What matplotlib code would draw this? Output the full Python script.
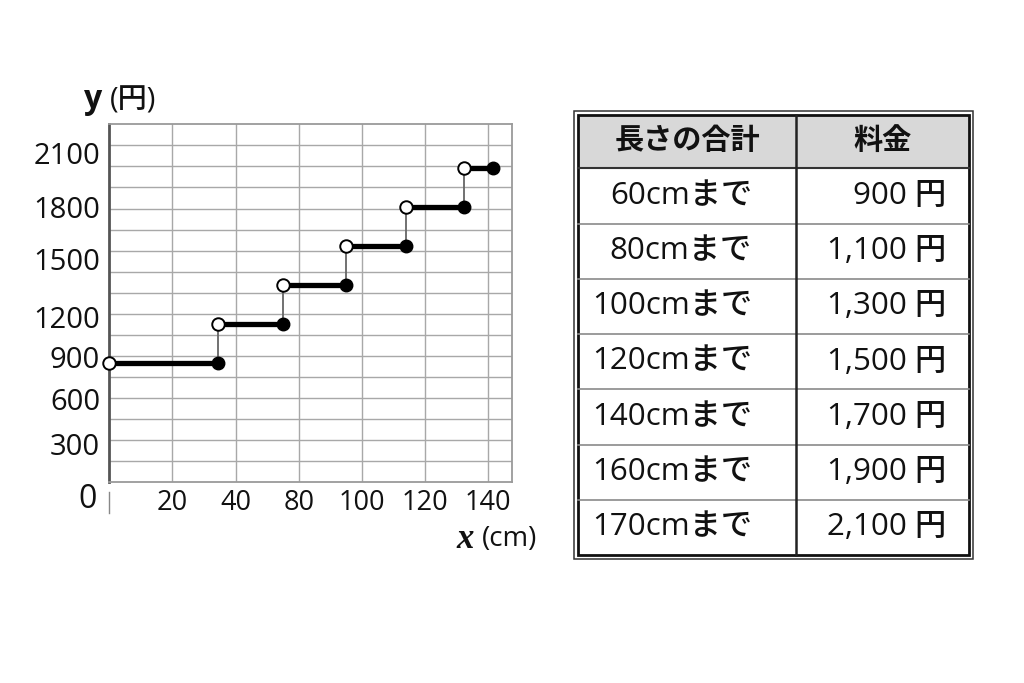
import numpy as np
import matplotlib
matplotlib.use("Agg")
import matplotlib.pyplot as plt
from matplotlib.patches import Rectangle

plt.rcParams['font.family'] = ['Open Sans', 'Noto Sans CJK JP', 'DejaVu Sans']
plt.rcParams['font.weight'] = 'medium'

# Table data
lengths = [60, 80, 100, 120, 140, 160, 170]  # cm
fees = [900, 1100, 1300, 1500, 1700, 1900, 2100]  # yen
header = ["長さの合計", "料金"]

# Step graph as drawn (breakpoints, in cm)
step_x = [0, 34.4, 54.9, 74.9, 93.9, 112.3, 121.6]
step_y = fees[:6]

# Tick labels as printed on the chart
x_ticks = [20, 40, 60, 80, 100, 120]
x_labels = ["20", "40", "80", "100", "120", "140"]
y_labels = ["2100", "1800", "1500", "1200", "900", "600", "300"]
y_label_px = [157, 210, 262, 320, 360, 403, 447.5]  # label centres, pixels

W, H = 1024, 683
fig = plt.figure(figsize=(W / 100, H / 100), dpi=100)


def box(l, t, r, b):
    return [l / W, 1 - b / H, (r - l) / W, (b - t) / H]


# ---- graph ----
ax = fig.add_axes(box(109.3, 124.3, 511.7, 482.3))
ymin, ymax = 289.7, 2125.6
ax.set_xlim(0, 127.4)
ax.set_ylim(ymin, ymax)
ax.set_xticks(x_ticks, x_labels, fontsize=19.5)
ax.tick_params(axis='x', length=0, pad=5, colors='#111')
ax.set_yticks([])
ax.set_yticks(np.linspace(ymin, ymax, 18)[1:-1], minor=True)
ax.tick_params(which='minor', length=0)
ax.grid(True, which='major', axis='x', color='#a8a8a8', lw=1)
ax.grid(True, which='minor', axis='y', color='#a8a8a8', lw=1)
for side in ['top', 'right', 'bottom']:
    ax.spines[side].set_color('#9a9a9a')
    ax.spines[side].set_linewidth(1.3)
ax.spines['left'].set_color('#555555')
ax.spines['left'].set_linewidth(2)

for i, fee in enumerate(step_y):
    x0, x1 = step_x[i], step_x[i + 1]
    ax.plot([x0, x1], [fee, fee], color='black', lw=3.8,
            solid_capstyle='butt', zorder=3)
    if i > 0:
        ax.plot([x0, x0], [step_y[i - 1], fee], color='#666666', lw=1.3, zorder=2)
ax.plot(step_x[:-1], step_y, 'o', ms=9, mfc='white', mec='black', mew=1.4,
        zorder=4, clip_on=False)
ax.plot(step_x[1:], step_y, 'o', ms=9, mfc='black', mec='black',
        zorder=4, clip_on=False)

# ---- overlay in pixel coordinates: labels and table ----
ov = fig.add_axes([0, 0, 1, 1])
ov.set_xlim(0, W)
ov.set_ylim(H, 0)
ov.axis('off')
ov.patch.set_alpha(0)

for lab, py in zip(y_labels, y_label_px):
    ov.text(100, py, lab, ha='right', va='center', fontsize=21, color='#111')
ov.text(88, 499, "0", ha='center', va='center', fontsize=23, color='#111')
ov.plot([109.3, 109.3], [492, 513], color='#888888', lw=1)

ov.text(93.5, 99, "y", ha='center', va='center', fontsize=23,
        fontweight='bold', color='#111')
ov.text(133, 101, "(円)", ha='center', va='center', fontsize=21, color='#111')
ov.text(465, 539, "x", ha='center', va='center', fontsize=25,
        family='Liberation Serif', fontweight='bold', fontstyle='italic',
        color='#111')
ov.text(510, 539, "(cm)", ha='center', va='center', fontsize=20, color='#111')

# table frame
tl, tt, tr, tb = 578, 115, 968.7, 555
head_b = 168.3
col_x = 796
ov.add_patch(Rectangle((574, 111), 972.7 - 574, 559.3 - 111, fill=False,
                       ec='#333333', lw=1.1))
ov.add_patch(Rectangle((tl, tt), tr - tl, head_b - tt, fc='#d8d8d8', ec='none'))
ov.add_patch(Rectangle((tl, tt), tr - tl, tb - tt, fill=False,
                       ec='#111111', lw=2))
row_h = (tb - head_b) / len(lengths)
for k in range(1, len(lengths)):
    ov.plot([tl, tr], [head_b + k * row_h] * 2, color='#8a8a8a', lw=1.2)
ov.plot([tl, tr], [head_b, head_b], color='#333333', lw=1.5)
ov.plot([col_x, col_x], [tt, tb], color='#222222', lw=1.8)

ov.text((tl + col_x) / 2, (tt + head_b) / 2, header[0], ha='center',
        va='center', fontsize=21, fontweight='bold', color='#111')
ov.text((col_x + tr) / 2, (tt + head_b) / 2, header[1], ha='center',
        va='center', fontsize=21, fontweight='bold', color='#111')
for k, (ln, fee) in enumerate(zip(lengths, fees)):
    cy = head_b + (k + 0.5) * row_h
    ov.text(752, cy, f"{ln}cmまで", ha='right', va='center', fontsize=22.5,
            color='#111')
    ov.text(946, cy, f"{fee:,} 円", ha='right', va='center', fontsize=22.5,
            color='#111')

fig.savefig("out.png", dpi=100)
